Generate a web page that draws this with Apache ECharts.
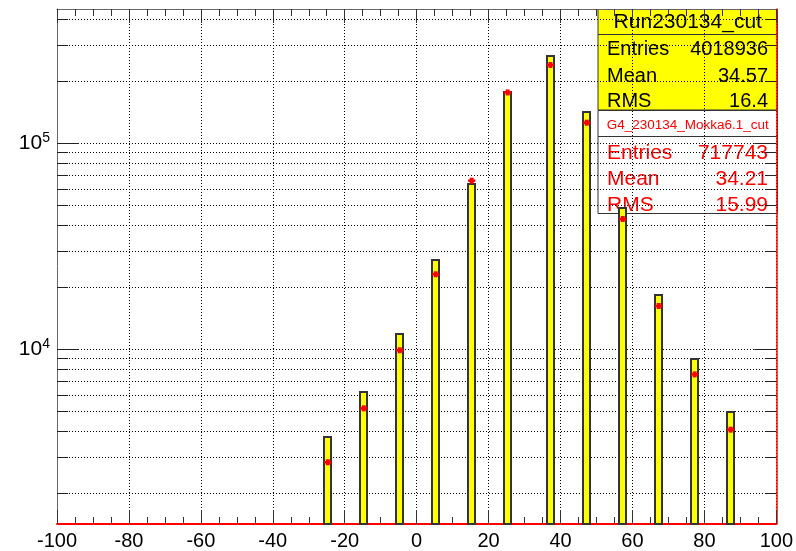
<!DOCTYPE html>
<html><head><meta charset="utf-8">
<script src="https://cdn.jsdelivr.net/npm/echarts@6/dist/echarts.min.js"></script>
<style>html,body{margin:0;padding:0;background:#fff}#c{width:796px;height:551px}</style>
</head><body><div id="c"></div>
<script>
// ---- data ----
const binCenters = [-24.7, -14.7, -4.7, 5.3, 15.3, 25.3, 37.2, 47.3, 57.3, 67.3, 77.3, 87.3];
const dataCounts = [3730, 6180, 11780, 27150, 63240, 176300, 265400, 141900, 48300, 18280, 8910, 4960];
const mcCounts   = [2820, 5150, 9860, 23050, 65630, 176000, 239100, 125500, 42760, 16170, 7530, 4060];
const binWidth = 2;
const xMin = -100, xMax = 100, xStep = 20;
const yMin = 1414, yMax = 447300;
const yGridValues = [2000,3000,4000,5000,6000,7000,8000,9000,
  10000,20000,30000,40000,50000,60000,70000,80000,90000,
  100000,200000,300000,400000];
const dataTitle = 'Run230134_cut';
const dataStatsNames = ['Entries', 'Mean', 'RMS'];
const dataStatsValues = ['4018936', '34.57', '16.4'];
const mcTitle = 'G4_230134_Mokka6.1_cut';
const mcStatsNames = ['Entries', 'Mean', 'RMS'];
const mcStatsValues = ['717743', '34.21', '15.99'];

const FONT = 'Liberation Sans, Arial, Helvetica, sans-serif';
const chart = echarts.init(document.getElementById('c'), null, {renderer: 'canvas'});

const barData = binCenters.map((c, i) => [c, dataCounts[i]]);
const mcData = binCenters.map((c, i) => [c, mcCounts[i]]);
const gridData = yGridValues.map(v => [xMin, v]);

function isPow10(v) {
  const l = Math.log10(v);
  return Math.abs(l - Math.round(l)) < 1e-6;
}

// stats box graphic
function statsGraphic() {
  const L = 598, R = 777.5;
  const els = [];
  els.push({type: 'rect', shape: {x: L, y: 9.5, width: R - L, height: 100.5},
    style: {fill: '#ffff00', stroke: '#333', lineWidth: 1}});
  els.push({type: 'line', shape: {x1: L, y1: 34.5, x2: R, y2: 34.5}, style: {stroke: '#333', lineWidth: 1}});
  els.push({type: 'text', style: {text: dataTitle, x: (L + R) / 2, y: 33, font: '21px ' + FONT,
    fill: '#000', align: 'center', verticalAlign: 'bottom'}});
  const blackBase = [59.5, 86, 111];
  dataStatsNames.forEach((n, i) => {
    els.push({type: 'text', style: {text: n, x: 607, y: blackBase[i], font: '20px ' + FONT, fill: '#000', align: 'left', verticalAlign: 'bottom'}});
    els.push({type: 'text', style: {text: dataStatsValues[i], x: 768, y: blackBase[i], font: '20px ' + FONT, fill: '#000', align: 'right', verticalAlign: 'bottom'}});
  });
  els.push({type: 'rect', shape: {x: L, y: 110.5, width: R - L, height: 103},
    style: {fill: '#ffffff', stroke: '#333', lineWidth: 1}});
  els.push({type: 'line', shape: {x1: L, y1: 136.5, x2: R, y2: 136.5}, style: {stroke: '#333', lineWidth: 1}});
  els.push({type: 'text', style: {text: mcTitle, x: (L + R) / 2, y: 132.5, font: '13.5px ' + FONT,
    fill: '#ff0000', align: 'center', verticalAlign: 'bottom'}});
  const redBase = [164, 190, 215.5];
  mcStatsNames.forEach((n, i) => {
    els.push({type: 'text', style: {text: n, x: 607, y: redBase[i], font: '21px ' + FONT, fill: '#ff0000', align: 'left', verticalAlign: 'bottom'}});
    els.push({type: 'text', style: {text: mcStatsValues[i], x: 768, y: redBase[i], font: '21px ' + FONT, fill: '#ff0000', align: 'right', verticalAlign: 'bottom'}});
  });
  return els;
}

const xAxisCommon = {
  type: 'value', min: xMin, max: xMax, interval: xStep,
  axisTick: {show: true, inside: true, length: 14, lineStyle: {color: '#333', width: 1}},
  minorTick: {show: true, splitNumber: 4, length: 7, lineStyle: {color: '#333', width: 1}},
};

const option = {
  animation: false,
  backgroundColor: '#ffffff',
  grid: {left: 57, right: 19, top: 9, bottom: 27, containLabel: false},
  xAxis: [
    Object.assign({}, xAxisCommon, {
      position: 'bottom',
      axisLine: {show: true, onZero: false, lineStyle: {color: '#ff0000', width: 2}},
      axisLabel: {show: true, fontSize: 20, fontFamily: FONT, color: '#000', margin: 7,
        showMinLabel: true, showMaxLabel: true},
      splitLine: {show: true, lineStyle: {type: [1, 2], color: '#000', width: 1}}
    }),
    Object.assign({}, xAxisCommon, {
      position: 'top',
      axisLine: {show: true, onZero: false, lineStyle: {color: '#666', width: 1}},
      axisLabel: {show: false},
      splitLine: {show: false}
    })
  ],
  yAxis: [
    {type: 'log', logBase: 10, min: yMin, max: yMax, position: 'left',
      axisLine: {show: true, onZero: false, lineStyle: {color: '#666', width: 1}},
      axisTick: {show: false}, splitLine: {show: false}, minorTick: {show: false},
      axisLabel: {show: true, margin: 7, showMinLabel: false, showMaxLabel: false,
        formatter: function (v) {
          if (!isPow10(v)) return '';
          return '{b|10}{s|' + Math.round(Math.log10(v)) + '}';
        },
        rich: {
          b: {fontSize: 21, fontFamily: FONT, color: '#000'},
          s: {fontSize: 14, fontFamily: FONT, color: '#000', padding: [0, 0, 10, 0]}
        }
      }
    },
    {type: 'log', logBase: 10, min: yMin, max: yMax, position: 'right',
      axisLine: {show: true, onZero: false, lineStyle: {color: '#ff0000', width: 1.5}},
      axisTick: {show: false}, splitLine: {show: false}, axisLabel: {show: false}}
  ],
  series: [
    { // y grid lines and y ticks (log minor divisions)
      type: 'custom', coordinateSystem: 'cartesian2d', xAxisIndex: 0, yAxisIndex: 0,
      silent: true, z: 1, clip: false,
      data: gridData,
      renderItem: function (params, api) {
        const v = api.value(1);
        const p = api.coord([xMin, v]);
        const cs = params.coordSys;
        const y = Math.round(p[1]) + 0.5;
        const tl = isPow10(v) ? 22 : 11;
        return {type: 'group', children: [
          {type: 'line', shape: {x1: cs.x, y1: y, x2: cs.x + cs.width, y2: y},
            style: {stroke: '#000', lineWidth: 1, lineDash: [1, 2]}},
          {type: 'line', shape: {x1: cs.x, y1: y, x2: cs.x + tl, y2: y},
            style: {stroke: '#222', lineWidth: 1}},
          {type: 'line', shape: {x1: cs.x + cs.width - tl, y1: y, x2: cs.x + cs.width, y2: y},
            style: {stroke: '#222', lineWidth: 1}}
        ]};
      }
    },
    { // data histogram bars
      type: 'custom', coordinateSystem: 'cartesian2d', xAxisIndex: 0, yAxisIndex: 0,
      z: 3, data: barData,
      renderItem: function (params, api) {
        const c = api.value(0), v = api.value(1);
        const p1 = api.coord([c - binWidth / 2, v]);
        const p2 = api.coord([c + binWidth / 2, yMin]);
        return {type: 'rect',
          shape: {x: Math.round(p1[0]), y: Math.round(p1[1]),
            width: Math.round(p2[0] - p1[0]), height: p2[1] - Math.round(p1[1])},
          style: {fill: '#ffff00', stroke: '#333', lineWidth: 2}};
      }
    },
    { // MC points
      type: 'custom', coordinateSystem: 'cartesian2d', xAxisIndex: 0, yAxisIndex: 0,
      z: 4, data: mcData,
      renderItem: function (params, api) {
        const c = api.value(0), v = api.value(1);
        const pl = api.coord([c - binWidth / 2, v]);
        const pr = api.coord([c + binWidth / 2, v]);
        const pc = api.coord([c, v]);
        return {type: 'group', children: [
          {type: 'line', shape: {x1: pl[0], y1: pc[1], x2: pr[0], y2: pc[1]},
            style: {stroke: '#ff0000', lineWidth: 2.5}},
          {type: 'rect', shape: {x: pc[0] - 2, y: pc[1] - 3, width: 4, height: 6},
            style: {fill: '#ff0000'}}
        ]};
      }
    }
  ],
  graphic: [{type: 'group', z: 100, children: statsGraphic()}]
};
chart.setOption(option);
</script>
</body></html>
